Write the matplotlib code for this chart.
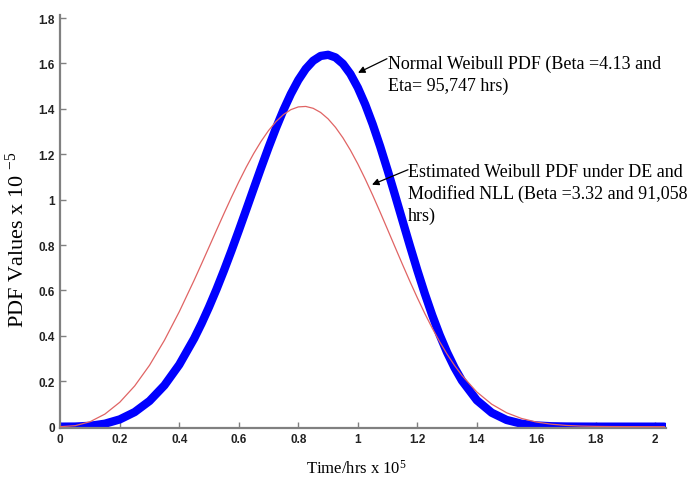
import matplotlib
matplotlib.use("Agg")
import matplotlib.pyplot as plt

# ---- data (time in 1e5 hrs, PDF in 1e-5) ----
time_x = [0.00, 0.05, 0.10, 0.15, 0.20, 0.25, 0.30, 0.35, 0.40, 0.45,
          0.475, 0.50, 0.525, 0.55, 0.575, 0.60, 0.625, 0.65, 0.675, 0.70,
          0.725, 0.75, 0.775, 0.80, 0.825, 0.85, 0.875, 0.90, 0.925, 0.95,
          0.975, 1.00, 1.025, 1.05, 1.075, 1.10, 1.125, 1.15, 1.175, 1.20,
          1.225, 1.25, 1.275, 1.30, 1.325, 1.35, 1.40, 1.45, 1.50, 1.55,
          1.60, 1.65, 1.70, 1.75, 1.80, 1.85, 1.90, 1.95, 2.00, 2.03]

normal_pdf = [0.0, 0.0004, 0.0037, 0.0130, 0.0320, 0.0642, 0.1132, 0.1820, 0.2732, 0.3884,
              0.4549, 0.5273, 0.6049, 0.6875, 0.7741, 0.8640, 0.9559, 1.0487, 1.1406, 1.2302,
              1.3154, 1.3946, 1.4658, 1.5269, 1.5762, 1.6120, 1.6331, 1.6382, 1.6267, 1.5985,
              1.5539, 1.4936, 1.4191, 1.3321, 1.2350, 1.1300, 1.0203, 0.9084, 0.7972, 0.6891,
              0.5865, 0.4911, 0.4044, 0.3272, 0.2600, 0.2028, 0.1163, 0.0614, 0.0296, 0.0130,
              0.0052, 0.0018, 0.0006, 0.0002, 0.0, 0.0, 0.0, 0.0, 0.0, 0.0]

estimated_pdf = [0.0, 0.0043, 0.0217, 0.0554, 0.1076, 0.1793, 0.2705, 0.3804, 0.5066, 0.6454,
                 0.7179, 0.7915, 0.8653, 0.9384, 1.0098, 1.0784, 1.1433, 1.2032, 1.2573, 1.3045,
                 1.3440, 1.3749, 1.3966, 1.4087, 1.4107, 1.4025, 1.3842, 1.3561, 1.3186, 1.2724,
                 1.2183, 1.1574, 1.0907, 1.0196, 0.9451, 0.8686, 0.7916, 0.7150, 0.6401, 0.5678,
                 0.4989, 0.4342, 0.3742, 0.3194, 0.2698, 0.2256, 0.1527, 0.0990, 0.0613, 0.0362,
                 0.0203, 0.0109, 0.0055, 0.0026, 0.0012, 0.0005, 0.0002, 0.0001, 0.0, 0.0]

x_ticks = [0, 0.2, 0.4, 0.6, 0.8, 1.0, 1.2, 1.4, 1.6, 1.8, 2.0]
x_tick_labels = ["0", "0.2", "0.4", "0.6", "0.8", "1", "1.2", "1.4", "1.6", "1.8", "2"]
y_ticks = [0, 0.2, 0.4, 0.6, 0.8, 1.0, 1.2, 1.4, 1.6, 1.8]
y_tick_labels = ["0", "0.2", "0.4", "0.6", "0.8", "1", "1.2", "1.4", "1.6", "1.8"]

label_normal = "Normal Weibull PDF (Beta =4.13 and\nEta= 95,747 hrs)"
label_estimated = "Estimated Weibull PDF under DE and\nModified NLL (Beta =3.32 and 91,058\nhrs)"

plt.rcParams['mathtext.fontset'] = 'custom'
plt.rcParams['mathtext.rm'] = 'Liberation Serif'
plt.rcParams['mathtext.it'] = 'Liberation Serif:italic'

fig = plt.figure(figsize=(6.92, 4.81), dpi=100)
ax = fig.add_axes([0.0871, 0.109, 0.875, 0.857])

ax.plot(time_x, normal_pdf, color='#0000ff', lw=6.0, solid_capstyle='round',
        solid_joinstyle='round', zorder=2)
ax.plot(time_x, estimated_pdf, color='#e06464', lw=0.9, zorder=3)

ax.set_xlim(0, 2.035)
ax.set_ylim(-0.004, 1.812)
ax.set_xticks(x_ticks)
ax.set_xticklabels(x_tick_labels)
ax.set_yticks(y_ticks)
ax.set_yticklabels(y_tick_labels)

for side in ['top', 'right']:
    ax.spines[side].set_visible(False)
for side in ['left', 'bottom']:
    ax.spines[side].set_color('#808080')
    ax.spines[side].set_linewidth(1.6)

ax.tick_params(direction='in', length=4, width=1.0, color='#808080',
               labelsize=8.5, labelcolor='#222222', pad=4)
for lab in ax.get_xticklabels() + ax.get_yticklabels():
    lab.set_fontfamily('Liberation Sans')
    lab.set_fontweight('bold')

ax.set_xlabel("Time/hrs x 10$^{5}$", family='Liberation Serif', fontsize=12, va='top')
ax.xaxis.set_label_coords(0.489, -0.075)
ax.set_ylabel("PDF Values x 10 $^{-5}$", family='Liberation Serif', fontsize=16)
ax.yaxis.set_label_coords(-0.052, 0.457)

# annotations
ax.annotate("", xy=(1.0007, 1.559), xytext=(1.098, 1.621),
            arrowprops=dict(arrowstyle='-|>', color='black', lw=0.9,
                            mutation_scale=10, shrinkA=0, shrinkB=0))
ax.text(1.1015, 1.639, label_normal, family='Liberation Serif', fontsize=13,
        va='top', ha='left', linespacing=1.35)

ax.annotate("", xy=(1.0477, 1.066), xytext=(1.1687, 1.132),
            arrowprops=dict(arrowstyle='-|>', color='black', lw=0.9,
                            mutation_scale=10, shrinkA=0, shrinkB=0))
ax.text(1.1687, 1.163, label_estimated, family='Liberation Serif', fontsize=13,
        va='top', ha='left', linespacing=1.35)

fig.savefig("out.png", dpi=100)
